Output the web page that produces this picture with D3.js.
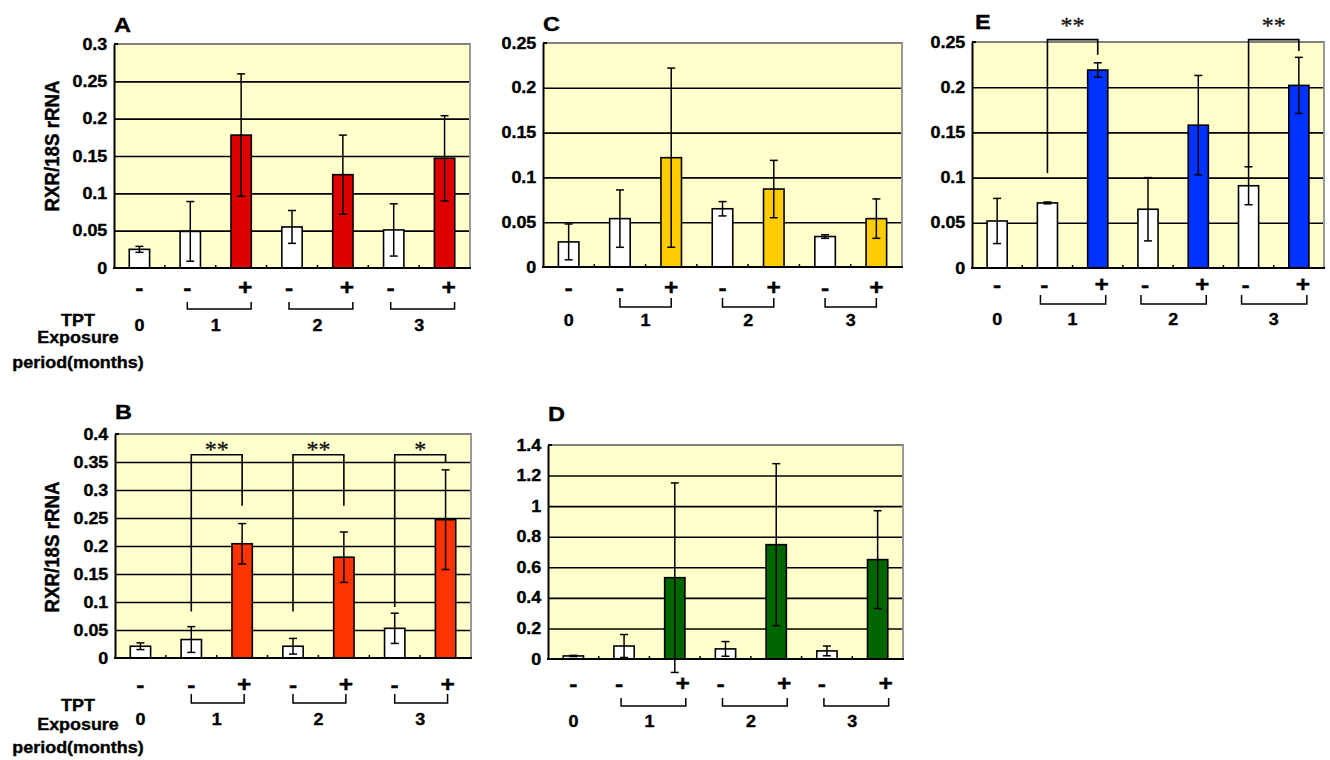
<!DOCTYPE html>
<html>
<head>
<meta charset="utf-8">
<script src="https://cdn.jsdelivr.net/npm/d3@7"></script>
<style>
  html, body { margin: 0; padding: 0; background: #fff; }
  svg { display: block; }
  text { font-family: "Liberation Sans", Arial, Helvetica, sans-serif; font-weight: bold; fill: #000;
         stroke: #000; stroke-width: 0.35px; }
  .star { font-family: "Liberation Serif", "Times New Roman", serif; font-weight: normal; fill: #111;
          stroke: #111; stroke-width: 0.3px; }
</style>
</head>
<body>
<svg id="fig" width="1330" height="760"></svg>
<script>
// ---- data ------------------------------------------------------------
// Seven bars per panel: month 0 control, then (-/+) TPT pairs for months 1..3
const signLabels  = ["-", "-", "+", "-", "+", "-", "+"];
const exposed     = [false, false, true, false, true, false, true];
const groupLabels = ["0", "1", "2", "3"];
const tptLines    = ["TPT", "Exposure", "period(months)"];
const yTitle      = "RXR/18S rRNA";

const meanA = [0.025, 0.049, 0.178, 0.055, 0.125, 0.051, 0.147];
const errA  = [0.004, 0.040, 0.082, 0.022, 0.053, 0.035, 0.057];

const meanB = [0.021, 0.033, 0.204, 0.021, 0.180, 0.053, 0.247];
const errB  = [0.006, 0.023, 0.036, 0.014, 0.045, 0.027, 0.089];

const meanC = [0.028, 0.054, 0.122, 0.065, 0.087, 0.034, 0.054];
const errC  = [0.020, 0.032, 0.100, 0.008, 0.032, 0.002, 0.022];

const meanD = [0.020, 0.085, 0.532, 0.066, 0.748, 0.053, 0.650];
const errD  = [0.004, 0.075, 0.620, 0.048, 0.530, 0.032, 0.320];

const meanE = [0.052, 0.072, 0.219, 0.065, 0.158, 0.091, 0.202];
const errE  = [0.025, 0.001, 0.008, 0.035, 0.055, 0.021, 0.031];

// significance brackets: bars compared, leg ends / top (data units), label
const sigB = [
  { from: 1, to: 2, left: 0.083, top: 0.363, right: 0.272, at: 0.378, label: "**" },
  { from: 3, to: 4, left: 0.083, top: 0.363, right: 0.272, at: 0.378, label: "**" },
  { from: 5, to: 6, left: 0.091, top: 0.363, right: 0.348, at: 0.378, label: "*" }
];
const sigE = [
  { from: 1, to: 2, left: 0.105, top: 0.2526, right: 0.236, at: 0.272, label: "**" },
  { from: 5, to: 6, left: 0.110, top: 0.2526, right: 0.240, at: 0.272, label: "**" }
];

const yMaxA = 0.3,  yStepA = 0.05;
const yMaxB = 0.4,  yStepB = 0.05;
const yMaxC = 0.25, yStepC = 0.05;
const yMaxD = 1.4,  yStepD = 0.2;
const yMaxE = 0.25, yStepE = 0.05;

// ---- panel layout ------------------------------------------------------
const panels = [
  { id: "A", mean: meanA, err: errA, yMax: yMaxA, step: yStepA, fill: "#dd0000", sig: [],
    x0: 114, x1: 470, y0: 44, y1: 268, letter: [114, 32], title: 146,
    signY: 287, brT: 302, brB: 309, numY: 331, tpt: [326, 343, 368], shift: [-3, 4], pad: [0, 6] },
  { id: "B", mean: meanB, err: errB, yMax: yMaxB, step: yStepB, fill: "#ff3300", sig: sigB,
    x0: 115, x1: 471, y0: 434, y1: 658, letter: [115, 419], title: 547,
    signY: 684, brT: 694, brB: 703, numY: 725, tpt: [711, 730, 753], shift: [0, 2], pad: [0, 0] },
  { id: "C", mean: meanC, err: errC, yMax: yMaxC, step: yStepC, fill: "#ffcc00", sig: [],
    x0: 543, x1: 902, y0: 43, y1: 267, letter: [543, 31], title: null,
    signY: 287, brT: 298, brB: 307, numY: 326, tpt: null, shift: [0, 0], pad: [0, 0] },
  { id: "D", mean: meanD, err: errD, yMax: yMaxD, step: yStepD, fill: "#006600", sig: [],
    x0: 548, x1: 903, y0: 445, y1: 659, letter: [548, 421], title: null,
    signY: 683, brT: 698, brB: 706, numY: 727, tpt: null, shift: [-5, 8], pad: [2, 3] },
  { id: "E", mean: meanE, err: errE, yMax: yMaxE, step: yStepE, fill: "#0033ff", sig: sigE,
    x0: 972, x1: 1324, y0: 42, y1: 268, letter: [975, 29], title: null,
    signY: 284, brT: 295, brB: 304, numY: 325, tpt: null, shift: [-3, 4], pad: [-4, 4] }
];

const SX = 1.12;          // slightly wide lettering
const svg = d3.select("#fig");
const fmt = v => String(+v.toFixed(2));

function label(g, txt, x, y, size, anchor) {
  return g.append("text")
    .attr("transform", `translate(${x},${y}) scale(${SX},1)`)
    .attr("text-anchor", anchor || "middle")
    .style("font-size", size + "px")
    .text(txt);
}

panels.forEach(p => {
  const g = svg.append("g").attr("class", "panel-" + p.id);
  const n = p.mean.length;
  const x = d3.scaleBand().domain(d3.range(n)).range([p.x0, p.x1]).padding(0);
  const y = d3.scaleLinear().domain([0, p.yMax]).range([p.y1, p.y0]);
  const bw = x.bandwidth() * 0.4;
  const cx = i => x(i) + x.bandwidth() / 2;
  const ticks = d3.range(0, p.yMax + p.step / 2, p.step);

  // plot background
  g.append("rect").attr("x", p.x0).attr("y", p.y0)
    .attr("width", p.x1 - p.x0).attr("height", p.y1 - p.y0).attr("fill", "#ffffcc");

  // horizontal gridlines
  const grid = g.append("g").attr("transform", `translate(${p.x0},0)`)
    .call(d3.axisLeft(y).tickValues(ticks.slice(1, -1)).tickSize(-(p.x1 - p.x0)).tickFormat(""));
  grid.select(".domain").remove();
  grid.selectAll("line").attr("stroke", "#000").attr("stroke-width", 1.6);

  // frame: grey top/right, black left
  g.append("line").attr("x1", p.x0).attr("x2", p.x1 + 1).attr("y1", p.y0).attr("y2", p.y0)
    .attr("stroke", "#808080").attr("stroke-width", 2);
  g.append("line").attr("x1", p.x1).attr("x2", p.x1).attr("y1", p.y0).attr("y2", p.y1)
    .attr("stroke", "#999").attr("stroke-width", 2);

  // y axis with labels
  const ax = g.append("g").attr("transform", `translate(${p.x0},0)`)
    .call(d3.axisLeft(y).tickValues(ticks).tickSize(0).tickPadding(6).tickFormat(fmt));
  ax.select(".domain").attr("stroke", "#000").attr("stroke-width", 2);
  ax.selectAll("text").attr("transform", `scale(${SX},1)`)
    .style("font-size", "16px").attr("fill", "#000");
  g.append("line").attr("x1", p.x0).attr("x2", p.x0 + 4).attr("y1", y(p.yMax)).attr("y2", y(p.yMax))
    .attr("stroke", "#000").attr("stroke-width", 2);

  // bars
  g.selectAll("rect.bar").data(p.mean).join("rect").attr("class", "bar")
    .attr("x", (d, i) => cx(i) - bw / 2).attr("width", bw)
    .attr("y", d => y(d)).attr("height", d => y(0) - y(d))
    .attr("fill", (d, i) => exposed[i] ? p.fill : "#fff")
    .attr("stroke", "#000").attr("stroke-width", 1.6);

  // error bars
  const eb = g.append("g").attr("stroke", "#000").attr("stroke-width", 1.5);
  p.mean.forEach((m, i) => {
    const hi = y(m + p.err[i]), lo = y(Math.max(m - p.err[i], -p.yMax));
    eb.append("line").attr("x1", cx(i)).attr("x2", cx(i)).attr("y1", hi).attr("y2", lo);
    eb.append("line").attr("x1", cx(i) - 4).attr("x2", cx(i) + 4).attr("y1", hi).attr("y2", hi);
    eb.append("line").attr("x1", cx(i) - 4).attr("x2", cx(i) + 4).attr("y1", lo).attr("y2", lo);
  });

  // x axis line + small category ticks
  g.append("line").attr("x1", p.x0 - 1).attr("x2", p.x1 + 1).attr("y1", p.y1).attr("y2", p.y1)
    .attr("stroke", "#000").attr("stroke-width", 2.2);
  d3.range(1, n).forEach(i => {
    g.append("line").attr("x1", x(i)).attr("x2", x(i)).attr("y1", p.y1).attr("y2", p.y1 - 3)
      .attr("stroke", "#000").attr("stroke-width", 1.5);
  });

  // significance brackets
  p.sig.forEach(s => {
    const xl = cx(s.from), xr = cx(s.to);
    g.append("path")
      .attr("d", `M${xl},${y(s.left)}V${y(s.top)}H${xr}V${y(s.right)}`)
      .attr("fill", "none").attr("stroke", "#000").attr("stroke-width", 1.6);
    g.append("text").attr("class", "star")
      .attr("x", (xl + xr) / 2).attr("y", y(s.at) + 11)
      .attr("text-anchor", "middle").style("font-size", "24px").text(s.label);
  });

  // -/+ row
  const signX = i => cx(i) + (i === 0 ? 0 : (exposed[i] ? p.shift[1] : p.shift[0]));
  signLabels.forEach((s, i) => label(g, s, signX(i), p.signY + 8, 22));

  // month brackets and numbers
  groupLabels.forEach((lbl, k) => {
    if (k === 0) {
      label(g, lbl, cx(0), p.numY, 16);
      return;
    }
    const a = 2 * k - 1, b = 2 * k;
    const xl = signX(a) + p.pad[0], xr = signX(b) + p.pad[1];
    g.append("path")
      .attr("d", `M${xl},${p.brT}V${p.brB}H${xr}V${p.brT}`)
      .attr("fill", "none").attr("stroke", "#000").attr("stroke-width", 1.5);
    label(g, lbl, (cx(a) + cx(b)) / 2, p.numY, 16);
  });

  // panel letter
  label(g, p.id, p.letter[0], p.letter[1], 21, "start");

  // y title and row caption (left column only)
  if (p.title !== null) {
    g.append("text")
      .attr("transform", `translate(59,${p.title}) scale(${SX},1) rotate(-90)`)
      .attr("text-anchor", "middle").style("font-size", "18.7px").text(yTitle);
  }
  if (p.tpt) {
    tptLines.forEach((t, j) => label(g, t, 78, p.tpt[j], 16));
  }
});
</script>
</body>
</html>
